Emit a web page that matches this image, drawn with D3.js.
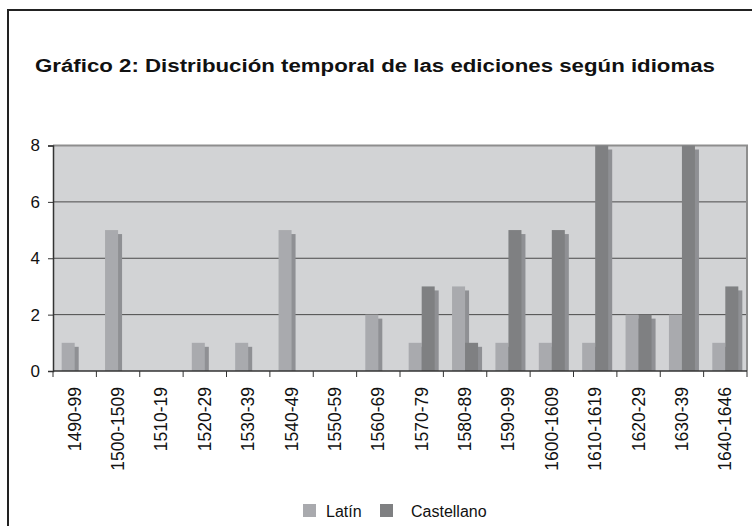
<!DOCTYPE html>
<html>
<head>
<meta charset="utf-8">
<script src="https://cdn.jsdelivr.net/npm/d3@7"></script>
<style>
  body { margin: 0; background: #fff; }
  text { font-family: "Liberation Sans", Arial, sans-serif; fill: #111; }
</style>
</head>
<body>
<div id="chart"></div>
<script>
const periods = ["1490-99", "1500-1509", "1510-19", "1520-29", "1530-39", "1540-49", "1550-59", "1560-69",
    "1570-79", "1580-89", "1590-99", "1600-1609", "1610-1619", "1620-29", "1630-39", "1640-1646"];
const latin = [1, 5, 0, 1, 1, 5, 0, 2, 1, 3, 1, 1, 1, 2, 2, 1];
const castellano = [0, 0, 0, 0, 0, 0, 0, 0, 3, 1, 5, 5, 8, 2, 8, 3];
const seriesNames = ["Latín", "Castellano"];
const yTicks = [0, 2, 4, 6, 8];
const title = "Gráfico 2: Distribución temporal de las ediciones según idiomas";

function chart() {
    const width = 752, height = 526;
    const margin = {left: 53, right: 5, top: 145.5, bottom: 155};

    const svg = d3.select("#chart").append("svg")
        .attr("width", width)
        .attr("height", height);

    // outer frame (only top and left edges are visible)
    svg.append("path")
        .attr("d", `M8,${height} L8,10 L${width},10`)
        .attr("fill", "none")
        .attr("stroke", "#222")
        .attr("stroke-width", 2);

    svg.append("text")
        .attr("x", 375)
        .attr("y", 72)
        .attr("text-anchor", "middle")
        .attr("font-size", 17.5)
        .attr("font-weight", "bold")
        .attr("textLength", 680)
        .attr("lengthAdjust", "spacingAndGlyphs")
        .text(title);

    const x = d3.scaleBand()
        .domain(periods)
        .range([margin.left, width - margin.right])
        .padding(0);

    const y = d3.scaleLinear()
        .domain([0, 8])
        .range([height - margin.bottom, margin.top]);

    const bw = x.bandwidth() * 0.3;
    const off = x.bandwidth() * 0.2;

    svg.append("rect")
        .attr("x", x.range()[0])
        .attr("y", y(8))
        .attr("width", x.range()[1] - x.range()[0])
        .attr("height", y(0) - y(8))
        .attr("fill", "#d2d3d5");

    svg.selectAll("line.grid")
        .data([2, 4, 6])
        .join("line")
        .attr("class", "grid")
        .attr("x1", x.range()[0])
        .attr("x2", x.range()[1])
        .attr("y1", d => y(d))
        .attr("y2", d => y(d))
        .attr("stroke", "#4a4a4a")
        .attr("stroke-width", 1);

    // top and right border of the plot
    svg.append("path")
        .attr("d", `M${x.range()[0]},${y(8)} L${x.range()[1]},${y(8)} L${x.range()[1]},${y(0)}`)
        .attr("fill", "none")
        .attr("stroke", "#8e8e8e")
        .attr("stroke-width", 2);

    const series = [
        {name: seriesNames[0], values: latin, color: "#a9aaae", idx: 0},
        {name: seriesNames[1], values: castellano, color: "#7f8082", idx: 1}
    ];

    const shadow = 4;
    series.forEach(s => {
        const g = svg.append("g");
        const data = periods.map((p, i) => ({p, v: s.values[i]})).filter(d => d.v > 0);
        g.selectAll("rect.shadow")
            .data(data)
            .join("rect")
            .attr("class", "shadow")
            .attr("x", d => x(d.p) + off + s.idx * bw + shadow)
            .attr("y", d => y(d.v) + shadow)
            .attr("width", bw)
            .attr("height", d => Math.max(0, y(0) - y(d.v) - shadow))
            .attr("fill", "#8f9094");
        g.selectAll("rect.bar")
            .data(data)
            .join("rect")
            .attr("class", "bar")
            .attr("x", d => x(d.p) + off + s.idx * bw)
            .attr("y", d => y(d.v))
            .attr("width", bw)
            .attr("height", d => y(0) - y(d.v))
            .attr("fill", s.color);
    });

    // y axis
    const yAxis = svg.append("g")
        .attr("transform", `translate(${x.range()[0]},0)`)
        .call(d3.axisLeft(y).tickValues(yTicks).tickSize(5).tickPadding(8).tickFormat(d3.format("d")));
    yAxis.select(".domain").attr("stroke", "#333").attr("stroke-width", 1.5);
    yAxis.selectAll(".tick line").attr("stroke", "#333");
    yAxis.selectAll(".tick text")
        .attr("font-size", 17)
        .attr("font-family", "Liberation Sans, Arial, sans-serif")
        .attr("fill", "#111");

    // x axis: ticks at category boundaries
    const bounds = periods.map(p => x(p)).concat([x.range()[1]]);
    svg.append("line")
        .attr("x1", x.range()[0]).attr("x2", x.range()[1])
        .attr("y1", y(0)).attr("y2", y(0))
        .attr("stroke", "#333").attr("stroke-width", 1.5);
    svg.selectAll("line.xtick")
        .data(bounds)
        .join("line")
        .attr("class", "xtick")
        .attr("x1", d => d).attr("x2", d => d)
        .attr("y1", y(0)).attr("y2", y(0) + 6)
        .attr("stroke", "#333");

    svg.selectAll("text.xlabel")
        .data(periods)
        .join("text")
        .attr("class", "xlabel")
        .attr("transform", d => `translate(${x(d) + x.bandwidth() / 2 + 6},${y(0) + 16}) rotate(-90)`)
        .attr("text-anchor", "end")
        .attr("font-size", 17.5)
        .text(d => d);

    // legend
    const legend = svg.append("g");
    const lx = [303, 380];
    series.forEach((s, i) => {
        legend.append("rect")
            .attr("x", lx[i])
            .attr("y", 504)
            .attr("width", 13)
            .attr("height", 13)
            .attr("fill", s.color);
        legend.append("text")
            .attr("x", lx[i] + 23 + (i ? 8 : 0))
            .attr("y", 517)
            .attr("font-size", 16)
            .text(s.name);
    });
}

chart();
</script>
</body>
</html>
